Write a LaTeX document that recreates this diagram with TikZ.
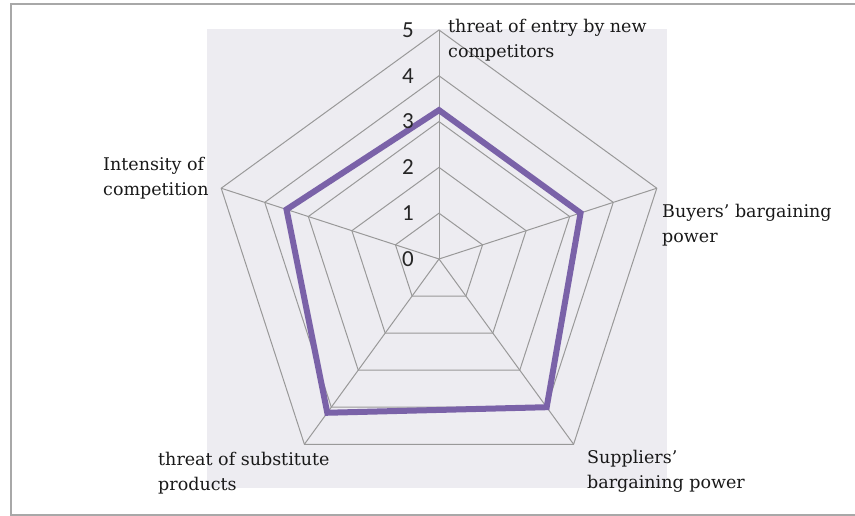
\documentclass[tikz,border=0pt]{standalone}
\usepackage{fontspec}
\setmainfont{DejaVu Serif}
\newfontfamily\numfont{Carlito}
\usetikzlibrary{positioning,calc}
\definecolor{plotbg}{HTML}{EDECF1}
\definecolor{gridgray}{HTML}{999999}
\definecolor{framegray}{HTML}{A8A8A8}
\definecolor{seriespurple}{HTML}{7A62A8}

\begin{document}
\begin{tikzpicture}[x=1pt,y=1pt,
                    gridline/.style={draw=gridgray,line width=1pt},
                    series/.style={draw=seriespurple,line width=6pt,line join=miter},
                    axislabel/.style={font=\fontsize{17.5}{25}\selectfont,align=left,
                      inner sep=0pt,text=black!90},
                    ticklabel/.style={font=\numfont\fontsize{23}{23}\selectfont,
                      inner sep=0pt,text=black!85}]
  \useasboundingbox (0,0) rectangle (855,516);
  \clip (0,0) rectangle (855,516);

  % frame and plot area
  \draw[framegray,line width=2pt] (11,1) rectangle (860,512);
  \fill[plotbg] (207,28) rectangle (667,487);

  \begin{scope}[shift={(439,257)}]
    \coordinate (ctr) at (0,0);
    \foreach \i in {0,...,4}
      \coordinate (s\i) at (90+72*\i:229);

    % rings 1..5
    \foreach \k in {1,...,5}
      \draw[gridline] (90:45.8*\k) \foreach \i in {1,...,4}{ -- (90+72*\i:45.8*\k)} -- cycle;

    % spokes
    \foreach \i in {0,...,4}
      \draw[gridline] (ctr) -- (s\i);

    % data
    \draw[series] (90:3.25*45.8) -- (162:3.5*45.8) -- (234:4.15*45.8)
                  -- (306:4.0*45.8) -- (18:3.25*45.8) -- cycle;

    % scale
    \foreach \k in {0,...,5}
      \node[ticklabel] (t\k) at ($(90:45.8*\k)+(-31,0)$) {\k};
  \end{scope}

  % category labels
  \node[axislabel,anchor=north west] (entry) at (448,497) {threat of entry by new\\competitors};
  \node[axislabel,anchor=north west] (buyers) at (662,312) {Buyers' bargaining\\power};
  \node[axislabel,anchor=north west] (intensity) at (103,359) {Intensity of\\competition};
  \node[axislabel,anchor=north west] (substitute) at (158,64) {threat of substitute\\products};
  \node[axislabel,anchor=north west] (suppliers) at (587,66) {Suppliers'\\bargaining power};
\end{tikzpicture}
\end{document}
